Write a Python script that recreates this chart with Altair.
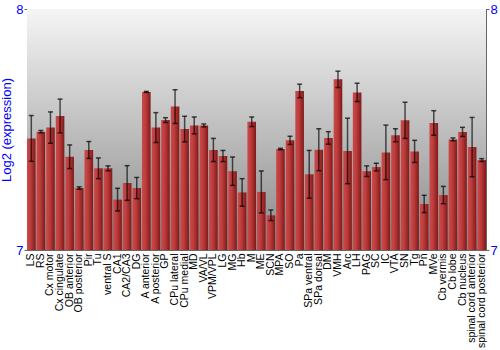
import altair as alt
import pandas as pd

regions = ["LS", "RS", "Cx motor", "Cx cingulate", "OB anterior", "OB posterior", "Pir", "Tu",
           "ventral S", "CA1", "CA2/CA3", "DG", "A anterior", "A posterior", "GP", "CPu lateral",
           "CPu medial", "MD", "VA/VL", "VPM/VPL", "LG", "MG", "Hb", "M", "ME", "SCN", "MPA", "SO",
           "Pa", "SPa ventral", "SPa dorsal", "DM", "VMH", "Arc", "LH", "PAG", "SC", "IC", "VTA",
           "SN", "Tg", "Pn", "MVe", "Cb vermis", "Cb lobe", "Cb nucleus", "spinal cord anterior",
           "spinal cord posterior"]
values = [7.463, 7.491, 7.508, 7.556, 7.387, 7.257, 7.415, 7.339,
          7.339, 7.209, 7.278, 7.257, 7.656, 7.508, 7.539, 7.595,
          7.502, 7.517, 7.517, 7.415, 7.390, 7.327, 7.239, 7.532, 7.241, 7.144, 7.419, 7.455,
          7.660, 7.314, 7.416, 7.465, 7.708, 7.411, 7.654, 7.327, 7.344, 7.405, 7.476,
          7.538, 7.409, 7.191, 7.527, 7.228, 7.459, 7.490, 7.427,
          7.373]
errors = [0.095, 0.005, 0.065, 0.070, 0.049, 0.005, 0.035, 0.043,
          0.010, 0.047, 0.072, 0.044, 0.002, 0.062, 0.010, 0.070,
          0.053, 0.035, 0.006, 0.048, 0.023, 0.059, 0.057, 0.020, 0.087, 0.022, 0.003, 0.017,
          0.028, 0.099, 0.087, 0.026, 0.034, 0.136, 0.038, 0.022, 0.016, 0.113, 0.027,
          0.075, 0.046, 0.036, 0.051, 0.036, 0.006, 0.019, 0.123,
          0.006]
y_ticks = [7, 8]

W, H = 459, 241
BLUE = "#0000ff"
FONT = "Liberation Sans"

df = pd.DataFrame({"region": regions, "value": values, "err": errors})
df["low"] = df["value"] - df["err"]
df["high"] = df["value"] + df["err"]
df["base"] = 7

xenc = alt.X("region:N", sort=None,
             scale=alt.Scale(paddingInner=0.1, paddingOuter=0),
             axis=alt.Axis(title=None, labelAngle=-90, labelFontSize=10.5, labelFont=FONT,
                           labelColor="#000000", ticks=False, domain=False, labelPadding=3,
                           labelAlign="right", labelBaseline="middle"))
yscale = alt.Scale(domain=[7, 8], zero=False, nice=False)

bg = alt.Chart(pd.DataFrame({"a": [0]})).mark_rect(
    color=alt.Gradient(gradient="linear", x1=0, x2=0, y1=0, y2=1,
                       stops=[alt.GradientStop(color="#f5f5f5", offset=0),
                              alt.GradientStop(color="#888888", offset=1)])
).encode(x=alt.value(0), x2=alt.value(W), y=alt.value(0), y2=alt.value(H))

bars = alt.Chart(df).mark_bar(
    color=alt.Gradient(gradient="linear", x1=0, x2=1, y1=0, y2=0,
                       stops=[alt.GradientStop(color="#c84a4a", offset=0),
                              alt.GradientStop(color="#c03c3c", offset=0.4),
                              alt.GradientStop(color="#7e1a1a", offset=1)])
).encode(
    x=xenc,
    y=alt.Y("value:Q", scale=yscale,
            axis=alt.Axis(values=y_ticks, format="d", title="Log2 (expression)", titleColor=BLUE,
                          titleFont=FONT, titleFontSize=13, titleFontWeight="normal",
                          titleX=-14, titleY=H / 2, titleAngle=-90, titleAlign="center",
                          titleBaseline="bottom",
                          labelColor=BLUE, labelFont=FONT, labelFontSize=13,
                          domainColor="#666666", tickColor="#666666", tickSize=3,
                          labelPadding=1, grid=False)),
    y2="base:Q",
)

rules = alt.Chart(df).mark_rule(color="#000000", opacity=0.65, strokeWidth=1.5).encode(
    x=xenc,
    y=alt.Y("low:Q", scale=yscale,
            axis=alt.Axis(values=y_ticks, format="d", orient="right", title=None,
                          labelColor=BLUE, labelFont=FONT, labelFontSize=13,
                          domainColor="#666666", tickColor="#666666", tickSize=3,
                          labelPadding=1, grid=False)),
    y2="high:Q",
)

caps_lo = alt.Chart(df).mark_tick(color="#000000", size=5, thickness=1.5).encode(
    x=xenc, y=alt.Y("low:Q", scale=yscale, axis=None))
caps_hi = alt.Chart(df).mark_tick(color="#000000", size=5, thickness=1.5).encode(
    x=xenc, y=alt.Y("high:Q", scale=yscale, axis=None))

chart = alt.layer(bg, bars, rules, caps_lo, caps_hi).resolve_axis(y="independent").properties(
    width=W, height=H,
    autosize=alt.AutoSizeParams(type="none"),
    padding={"left": 27, "top": 9, "right": 14, "bottom": 100},
    background="#ffffff",
).configure_view(stroke="#666666", strokeWidth=1)

chart.save("out.html", embed_options={"renderer": "svg", "actions": False})
